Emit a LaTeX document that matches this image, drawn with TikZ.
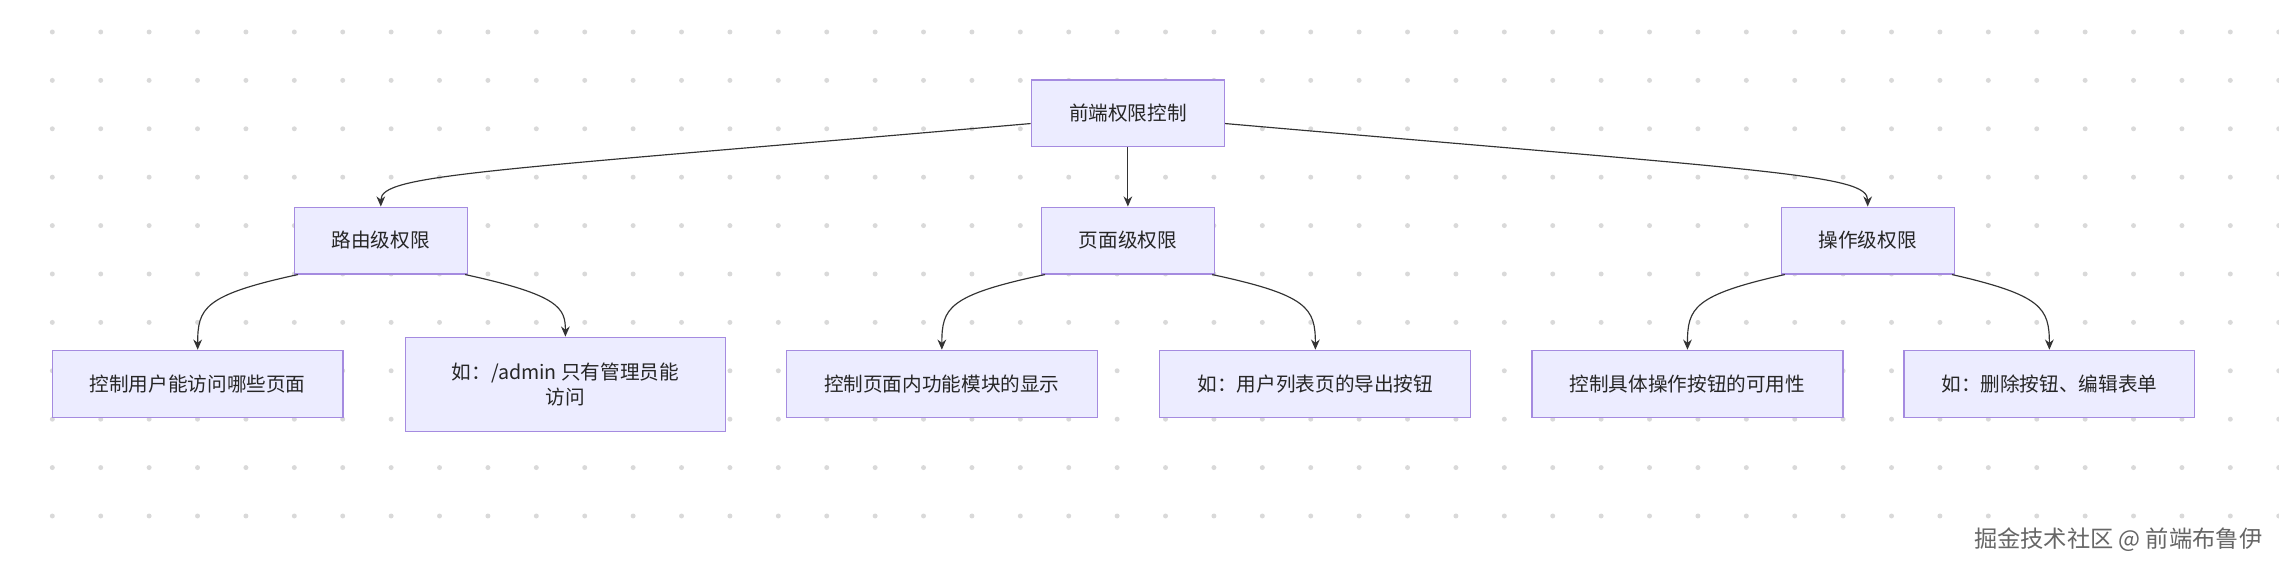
\documentclass[tikz,border=0pt]{standalone}
\usepackage{fontspec}
\setmainfont{Noto Sans CJK SC}
\usetikzlibrary{arrows.meta}
\definecolor{nfill}{HTML}{ECECFF}
\definecolor{nline}{HTML}{A58BE0}
\definecolor{edge}{HTML}{333333}
\begin{document}
\begin{tikzpicture}[x=1pt,y=-1pt,
  box/.style={draw=nline,fill=nfill,line width=0.8pt,minimum height=46pt,inner sep=0pt,font=\fontsize{13.5}{17}\selectfont,text=black!85,align=center},
  arr/.style={draw=edge,line width=0.8pt,-{Stealth[length=7pt,width=6pt]}}]
\useasboundingbox (0,0) rectangle (1568,391.5);
\fill[white] (0,0) rectangle (1568,391.5);
\foreach \i in {0,...,46}{\foreach \j in {0,...,10}{
  \fill[black!15] (36+\i*33.3,22+\j*33.3) circle (1.7pt);}}
\node[box,minimum width=133pt] (root) at (776,78) {前端权限控制};
\node[box,minimum width=119pt] (a) at (262,165.5) {路由级权限};
\node[box,minimum width=119pt] (b) at (776,165.5) {页面级权限};
\node[box,minimum width=119pt] (c) at (1285,165.5) {操作级权限};
\node[box,minimum width=200pt] (a1) at (136,264) {控制用户能访问哪些页面};
\node[box,minimum width=220pt,minimum height=65pt] (a2) at (389,264.5) {如：/admin 只有管理员能\\访问};
\node[box,minimum width=214pt] (b1) at (648,264) {控制页面内功能模块的显示};
\node[box,minimum width=214pt] (b2) at (905,264) {如：用户列表页的导出按钮};
\node[box,minimum width=214pt] (c1) at (1161,264) {控制具体操作按钮的可用性};
\node[box,minimum width=200pt] (c2) at (1410,264) {如：删除按钮、编辑表单};
\node[text=black!60,font=\fontsize{16}{18}\selectfont,anchor=east] (wm) at (1560,371) {掘金技术社区 @ 前端布鲁伊};
\draw[arr] (root.west|-0,85) .. controls (330,118) and (262,120) .. (a.north);
\draw[arr] (root.south) -- (b.north);
\draw[arr] (root.east|-0,85) .. controls (1222,118) and (1285,120) .. (c.north);
\draw[arr] (a.south-|205,185) .. controls (140,203) and (136,212) .. (a1.north);
\draw[arr] (a.south-|320,185) .. controls (385,203) and (389,212) .. (a2.north);
\draw[arr] (b.south-|719,185) .. controls (652,203) and (648,212) .. (b1.north);
\draw[arr] (b.south-|834,185) .. controls (900,203) and (905,212) .. (b2.north);
\draw[arr] (c.south-|1228,185) .. controls (1165,203) and (1161,212) .. (c1.north);
\draw[arr] (c.south-|1343,185) .. controls (1405,203) and (1410,212) .. (c2.north);
\end{tikzpicture}
\end{document}
